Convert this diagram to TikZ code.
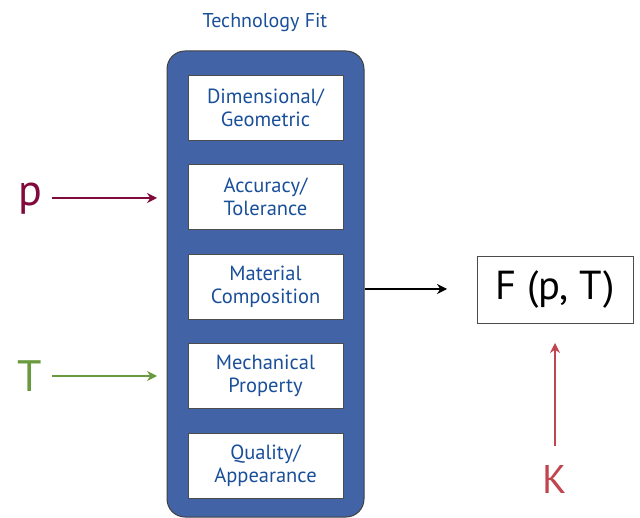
\documentclass[tikz,border=0pt]{standalone}
\usepackage{fontspec}
\setmainfont{PT Sans}
\usetikzlibrary{arrows.meta}
\definecolor{bfill}{HTML}{4264A6}
\definecolor{btext}{HTML}{1A4F9A}
\definecolor{pcol}{HTML}{7F0A3B}
\definecolor{tcol}{HTML}{6A9A40}
\definecolor{kcol}{HTML}{C0454F}
\tikzset{
  inner/.style={draw=black!70, line width=0.8pt, fill=white, minimum width=155pt, minimum height=65pt, align=center, text=btext, font=\fontsize{20.5}{23}\selectfont, inner sep=0pt},
  big/.style={font=\fontsize{44}{48}\selectfont, inner sep=0pt},
  arr/.style={-{Stealth[length=10pt,width=10pt]}, line width=1.3pt}
}
\begin{document}
\begin{tikzpicture}[x=1pt,y=-1pt]
\useasboundingbox (0,0) rectangle (640,518);
\node[text=btext, font=\fontsize{20}{23}\selectfont] (title) at (265,23) {Technology Fit};
\node[draw=black!75, line width=1pt, fill=bfill, rounded corners=18pt, minimum width=197pt, minimum height=466pt, inner sep=0pt] (fit) at (265.5,284) {};
\node[inner] (b1) at (265.5,107.5) {Dimensional/\\Geometric};
\node[inner] (b2) at (265.5,197) {Accuracy/\\Tolerance};
\node[inner] (b3) at (265.5,286.5) {Material\\Composition};
\node[inner] (b4) at (265.5,376) {Mechanical\\Property};
\node[inner] (b5) at (265.5,465.5) {Quality/\\Appearance};
\node[big, text=pcol] (p) at (30,199) {p};
\node[big, text=tcol] (T) at (30,376) {T};
\node[draw=black!70, line width=0.8pt, minimum width=156pt, minimum height=67pt, font=\fontsize{40.5}{44}\selectfont, inner sep=0pt] (F) at (555,289.5) {F (p, T)};
\node[big, text=kcol, font=\fontsize{40}{44}\selectfont] (K) at (555,479) {K};
\coordinate (pa) at (52,198);
\coordinate (pb) at (157,198);
\coordinate (ta) at (52,376);
\coordinate (tb) at (157,376);
\coordinate (ka) at (555,446);
\coordinate (kb) at (555,343);
\coordinate (fo) at (447,289);
\draw[arr, draw=pcol] (pa) -- (pb);
\draw[arr, draw=tcol] (ta) -- (tb);
\draw[arr, draw=black] (fit.east |- fo) -- (fo);
\draw[arr, draw=kcol] (ka) -- (kb);
\end{tikzpicture}
\end{document}
